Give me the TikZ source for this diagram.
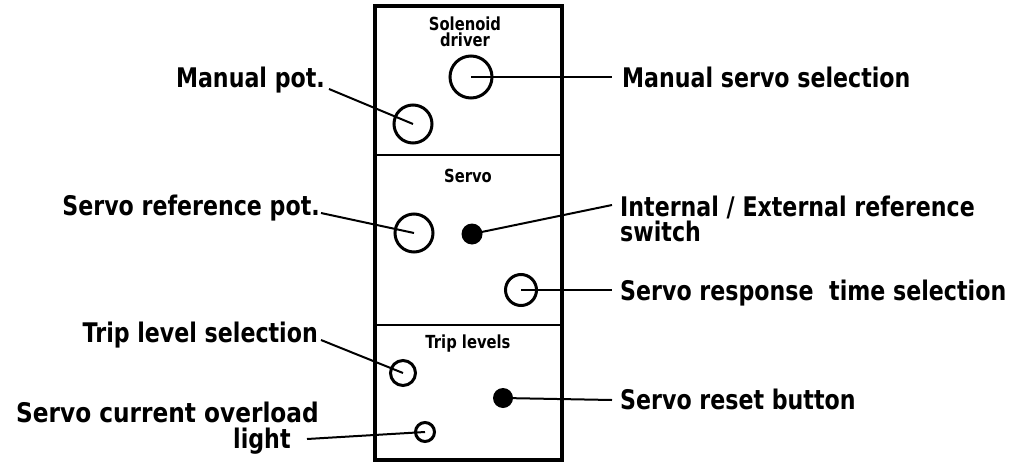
\documentclass[tikz,border=0pt]{standalone}
\usepackage{fontspec}
\newfontfamily\lblfont{DejaVu Sans}[FakeStretch=0.82]
\begin{document}
\begin{tikzpicture}[x=1pt,y=-1pt,
  big/.style={font=\lblfont\bfseries\fontsize{27}{25}\selectfont, inner sep=0pt},
  small/.style={font=\lblfont\bfseries\fontsize{18}{16}\selectfont, inner sep=0pt, align=center},
  knob/.style={circle, draw, line width=3pt, inner sep=0pt},
  dot/.style={circle, fill, inner sep=0pt},
  leader/.style={line width=2pt}]
\useasboundingbox (0,0) rectangle (1025,463);
% panel
\draw[line width=3.5pt] (375,6) rectangle (562,460);
\draw[line width=2.2pt] (375,155) -- (562,155);
\draw[line width=2.2pt] (375,325) -- (562,325);
% panel titles
\node[small, anchor=base] (tSol) at (465,46) {Solenoid\\driver};
\node[small, anchor=base] (tServo) at (468,182) {Servo};
\node[small, anchor=base] (tTrip) at (468,348) {Trip levels};
% components
\node[knob, minimum size=38pt] (mp) at (413,124) {};
\node[knob, minimum size=42pt] (ms) at (471,77) {};
\node[knob, minimum size=38pt] (srp) at (414,233) {};
\node[dot, minimum size=21pt] (ie) at (472,234) {};
\node[knob, minimum size=31pt] (srt) at (521,290) {};
\node[knob, minimum size=25pt] (tl) at (403,373) {};
\node[dot, minimum size=20pt] (rb) at (503,398) {};
\node[knob, minimum size=19pt] (ol) at (425,432) {};
% labels left
\node[big, anchor=base east] (lMP) at (325,87) {Manual pot.};
\node[big, anchor=base east] (lSRP) at (320,215) {Servo reference pot.};
\node[big, anchor=base east] (lTL) at (318,342) {Trip level selection};
\node[big, anchor=base west] (lOL1) at (16,422) {\scalebox{1.05}[1]{Servo current overload}};
\node[big, anchor=base west] (lOL2) at (233,448) {light};
% labels right
\node[big, anchor=base west] (lMS) at (622,87) {Manual servo selection};
\node[big, anchor=base west, align=left] (lIE) at (620,241) {Internal / External reference\\switch};
\node[big, anchor=base west] (lSRT) at (620,300) {Servo response\hspace{8pt} time selection};
\node[big, anchor=base west] (lRB) at (620,409) {Servo reset button};
% leader ends
\coordinate (cMP) at (329,89);
\coordinate (cSRP) at (321,213);
\coordinate (cTL) at (321,340);
\coordinate (cOL) at (307,439);
\coordinate (cMS) at (612,77);
\coordinate (cIE) at (612,205);
\coordinate (cSRT) at (612,290);
\coordinate (cRB) at (612,400);
% leaders
\draw[leader] (cMP) -- (mp.center);
\draw[leader] (cSRP) -- (srp.center);
\draw[leader] (cTL) -- (tl.center);
\draw[leader] (cOL) -- (ol.center);
\draw[leader] (ms.center) -- (cMS);
\draw[leader] (ie.center) -- (cIE);
\draw[leader] (srt.center) -- (cSRT);
\draw[leader] (rb.center) -- (cRB);
\end{tikzpicture}
\end{document}
